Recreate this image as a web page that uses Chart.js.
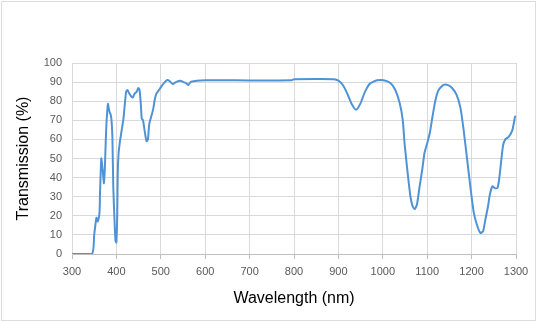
<!DOCTYPE html>
<html>
<head>
<meta charset="utf-8">
<script src="https://cdn.jsdelivr.net/npm/chart.js@4"></script>
<style>
  body { margin: 0; background: #fff; }
  canvas { display: block; }
</style>
</head>
<body>
<canvas id="chartLine" width="540" height="322"></canvas>
<script>
var ctx = document.getElementById('chartLine').getContext('2d');

// spectrum
const wavelength = [
    300, 345, 350, 355, 358, 362, 363, 366, 369, 372, 374, 376, 378, 381, 383, 385,
    387, 389, 391, 393, 396, 398, 400, 402, 403, 405, 408, 410, 412, 416, 419, 422,
    425, 429, 433, 437, 441, 446, 449, 452, 455, 457, 460, 462, 466, 468, 471, 474,
    479, 483, 486, 490, 495, 501, 508, 514, 519, 527, 534, 544, 551, 557, 562, 568,
    600, 700, 795, 800, 850, 890, 900, 910, 920, 930, 940, 950, 960, 970, 979, 987,
    1002, 1017, 1028, 1038, 1045, 1049, 1055, 1062, 1067, 1072, 1077, 1083, 1089, 1094, 1100, 1106,
    1112, 1119, 1126, 1137, 1147, 1156, 1166, 1175, 1182, 1190, 1198, 1205, 1213, 1220, 1226, 1231,
    1237, 1241, 1247, 1252, 1258, 1262, 1267, 1271, 1276, 1284, 1292, 1298, 1300
];
const transmission = [
    0, 0, 10, 19, 17, 22, 31, 50, 44, 37, 45, 59, 70, 78.6, 76, 74,
    73, 70, 61, 35, 16, 7, 6, 22, 42, 53, 59, 62, 65, 71, 78.6, 85,
    85.8, 84, 82.6, 82, 84, 85, 86.9, 86, 78.6, 71, 70, 67, 61, 59, 60, 68,
    72.5, 76, 80.4, 84, 85.5, 87.6, 89.7, 91, 90.7, 89, 90, 90.7, 90, 89.4,
    88.5, 90.2, 91, 90.9, 91, 91.5, 91.6, 91.5, 90.8, 88.5, 84, 78.5, 75.5, 79,
    85, 89, 90.3, 91, 91, 89.5, 86, 79, 70, 58, 44.5, 30.5, 25, 23.5, 26, 35.5,
    44.5, 53, 58, 63.5, 72, 81, 86, 88.6, 88.4, 86.9, 83.4, 76.4, 65, 49.4, 33.7, 21.5,
    14.5, 11, 12, 18, 25, 31, 35.5, 34.5, 34.5, 39, 49.4, 57, 60, 61.5, 65, 72, 72
];

const xTicks = [300, 400, 500, 600, 700, 800, 900, 1000, 1100, 1200, 1300];
const yTicks = [0, 10, 20, 30, 40, 50, 60, 70, 80, 90, 100];

const points = wavelength.map((w, i) => ({ x: w, y: transmission[i] }));

const frame = {
    id: 'frame',
    afterDraw(chart) {
        const c = chart.ctx;
        c.save();
        c.strokeStyle = '#dcdcdc';
        c.lineWidth = 1;
        c.strokeRect(1.5, 1.5, 534, 319);
        c.restore();
    }
};

var chart = new Chart(ctx, {
    type: 'line',
    data: {
        datasets: [{
            data: points,
            borderColor: '#4f93d6',
            borderWidth: 2,
            pointRadius: 0,
            tension: 0.2,
            fill: false
        }]
    },
    options: {
        responsive: false,
        animation: false,
        layout: { padding: { left: 0, right: 24, top: 63, bottom: 0 } },
        plugins: { legend: { display: false }, tooltip: { enabled: false } },
        scales: {
            x: {
                type: 'linear',
                min: 300,
                max: 1300,
                afterBuildTicks: (s) => { s.ticks = xTicks.map(v => ({ value: v })); },
                afterFit: (s) => { s.height = 68; },
                grid: { color: '#d9d9d9', tickLength: 5, tickColor: '#bfbfbf' },
                border: { color: '#bfbfbf' },
                ticks: {
                    color: '#595959',
                    padding: 6,
                    maxRotation: 0,
                    callback: (v) => String(v),
                    font: { family: 'Liberation Sans, Arial', size: 11 }
                },
                title: {
                    display: true,
                    text: 'Wavelength (nm)',
                    color: '#000',
                    padding: { top: 0, bottom: 14 },
                    font: { family: 'Liberation Sans, Arial', size: 16 }
                }
            },
            y: {
                min: 0,
                max: 100,
                afterBuildTicks: (s) => { s.ticks = yTicks.map(v => ({ value: v })); },
                afterFit: (s) => { s.width = 72; },
                grid: { color: '#d9d9d9', drawTicks: false },
                border: { color: '#d9d9d9' },
                ticks: {
                    color: '#595959',
                    padding: 10,
                    callback: (v) => String(v),
                    font: { family: 'Liberation Sans, Arial', size: 11 }
                },
                title: {
                    display: true,
                    text: 'Transmission (%)',
                    color: '#000',
                    padding: { top: 14, bottom: 0 },
                    font: { family: 'Liberation Sans, Arial', size: 16 }
                }
            }
        }
    },
    plugins: [frame]
});
</script>
</body>
</html>
